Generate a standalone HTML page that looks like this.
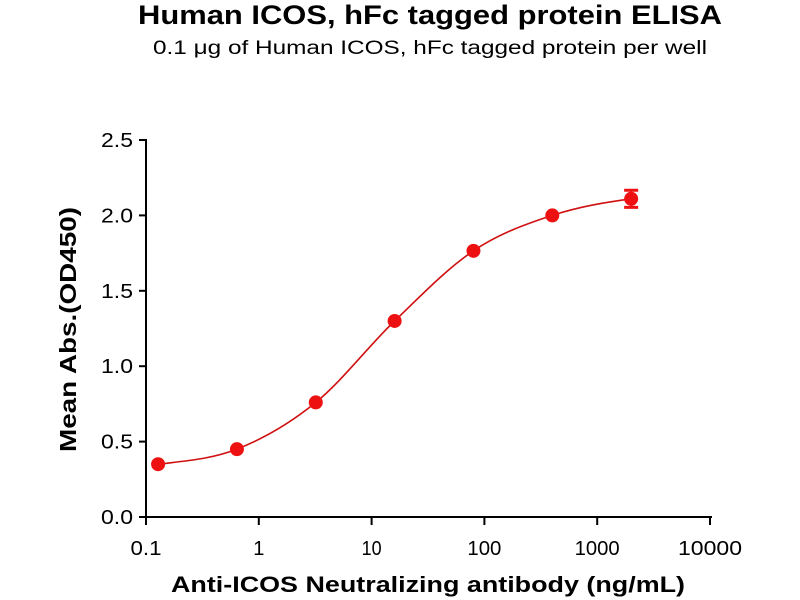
<!DOCTYPE html>
<html><head><meta charset="utf-8"><style>body{margin:0;background:#fff}svg{display:block}text{font-family:"Liberation Sans",Arial,sans-serif}</style></head>
<body>
<svg id="s" width="800" height="600" viewBox="0 0 800 600" xmlns="http://www.w3.org/2000/svg">
<text x="138" y="24" font-size="27" font-weight="bold" textLength="584" lengthAdjust="spacingAndGlyphs">Human ICOS, hFc tagged protein ELISA</text>
<text x="153" y="54" font-size="19" textLength="554" lengthAdjust="spacingAndGlyphs">0.1 μg of Human ICOS, hFc tagged protein per well</text>
<g stroke="#000" stroke-width="2" fill="none">
<line x1="146" y1="139" x2="146" y2="518"/>
<line x1="145" y1="517" x2="712" y2="517"/>
</g>
<g id="ticks" stroke="#000" stroke-width="2"></g>
<g id="labs" font-size="20"></g>
<text transform="translate(76,452) rotate(-90)" font-size="23" font-weight="bold" textLength="245" lengthAdjust="spacingAndGlyphs">Mean Abs.(OD450)</text>
<text x="171" y="592" font-size="22" font-weight="bold" textLength="514" lengthAdjust="spacingAndGlyphs">Anti-ICOS Neutralizing antibody (ng/mL)</text>
<path id="c" fill="none" stroke="#d01010" stroke-width="1.6"/>
<g id="pts" fill="#ee1111"></g>
</svg>
<script>
var X=function(v){return 146+112.8*(Math.log10(v)+1)},Y=function(v){return 517-150.8*v};
var t='',l='';
for(var i=0;i<=5;i++){var y=Y(i*0.5);t+='<line x1="139" y1="'+y+'" x2="146" y2="'+y+'"/>';l+='<text x="133" y="'+(y+7)+'" text-anchor="end" textLength="32" lengthAdjust="spacingAndGlyphs">'+(i*0.5).toFixed(1)+'</text>';}
var xl=['0.1','1','10','100','1000','10000'],w=[31,0,20,34,45,64];
for(var i=0;i<6;i++){var x=146+112.8*i;t+='<line x1="'+x+'" y1="517" x2="'+x+'" y2="525"/>';
if(w[i])l+='<text x="'+(x-w[i]/2)+'" y="555" textLength="'+w[i]+'" lengthAdjust="spacingAndGlyphs">'+xl[i]+'</text>';else l+='<text x="'+x+'" y="555" text-anchor="middle">'+xl[i]+'</text>';}
document.getElementById('ticks').innerHTML=t;document.getElementById('labs').innerHTML=l;
var xs=[0.128,0.64,3.2,16,80,400,2000],ys=[0.35,0.45,0.76,1.30,1.765,2.0,2.11];
var P=xs.map(function(x,i){return [X(x),Y(ys[i])];});
var d='M'+P[0][0]+','+P[0][1];
for(var i=0;i<P.length-1;i++){var p0=P[i-1],p1=P[i],p2=P[i+1],p3=P[i+2]||[2*P[i+1][0]-P[i][0],P[i+1][1]-(P[i][1]-P[i+1][1])*0.3];
if(i==0)p0=[2*P[0][0]-P[1][0],P[0][1]+0.3*(P[0][1]-P[1][1])];
d+='C'+(p1[0]+(p2[0]-p0[0])/6).toFixed(1)+','+(p1[1]+(p2[1]-p0[1])/6).toFixed(1)+' '+(p2[0]-(p3[0]-p1[0])/6).toFixed(1)+','+(p2[1]-(p3[1]-p1[1])/6).toFixed(1)+' '+p2[0].toFixed(1)+','+p2[1].toFixed(1);}
document.getElementById('c').setAttribute('d',d);
var p='';
for(var i=0;i<7;i++)p+='<circle cx="'+X(xs[i])+'" cy="'+Y(ys[i])+'" r="7"/>';
var ex=X(2000);p+='<rect x="'+(ex-1)+'" y="'+Y(2.17)+'" width="2" height="'+(Y(2.05)-Y(2.17))+'"/><rect x="'+(ex-7)+'" y="'+(Y(2.17)-1)+'" width="14" height="3"/><rect x="'+(ex-7)+'" y="'+(Y(2.05)-2)+'" width="14" height="3"/>';
document.getElementById('pts').innerHTML=p;
</script>
</body></html>
